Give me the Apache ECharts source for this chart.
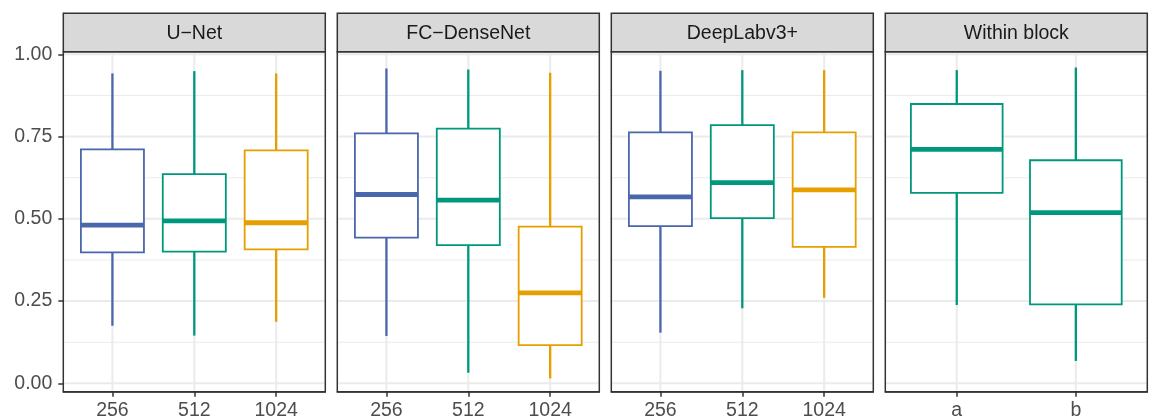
<!DOCTYPE html>
<html>
<head>
<meta charset="utf-8">
<script src="https://cdn.jsdelivr.net/npm/echarts@6/dist/echarts.min.js"></script>
<style>html,body{margin:0;padding:0;background:#fff}#chart{width:1152px;height:420px}</style>
</head>
<body>
<div id="chart"></div>
<script>
// ---- data: [lower whisker, Q1, median, Q3, upper whisker] ----
const panelNames = ['U\u2212Net', 'FC\u2212DenseNet', 'DeepLabv3+', 'Within block'];
const sizeCats = ['256', '512', '1024'];
const blockCats = ['a', 'b'];
const unetStats = [
  [0.175, 0.398, 0.481, 0.711, 0.942],
  [0.145, 0.400, 0.494, 0.636, 0.949],
  [0.187, 0.407, 0.488, 0.708, 0.942]
];
const denseStats = [
  [0.144, 0.443, 0.574, 0.760, 0.957],
  [0.032, 0.420, 0.557, 0.774, 0.954],
  [0.015, 0.116, 0.275, 0.476, 0.944]
];
const deeplabStats = [
  [0.154, 0.478, 0.567, 0.763, 0.950],
  [0.228, 0.502, 0.610, 0.785, 0.952],
  [0.260, 0.415, 0.588, 0.763, 0.952]
];
const blockStats = [
  [0.238, 0.579, 0.711, 0.849, 0.952],
  [0.068, 0.240, 0.519, 0.678, 0.960]
];
const yMajor = [0, 0.25, 0.5, 0.75, 1.0];
const yMinor = [0.125, 0.375, 0.625, 0.875];

// ---- styles / layout ----
const BLUE = '#4A66AC', TEAL = '#00987C', ORANGE = '#E69F00';
const panels = [
  { cats: sizeCats, stats: unetStats, colors: [BLUE, TEAL, ORANGE] },
  { cats: sizeCats, stats: denseStats, colors: [BLUE, TEAL, ORANGE] },
  { cats: sizeCats, stats: deeplabStats, colors: [BLUE, TEAL, ORANGE] },
  { cats: blockCats, stats: blockStats, colors: [TEAL, TEAL] }
];
const YMIN = -0.0255, YMAX = 1.008;
const LEFT0 = 63.3, STEP = 274, PW = 262, TOP = 51.7, PH = 340, STRIP_TOP = 13.3;
const BOXW = 0.77;
const FONT = 'Liberation Sans, Arial, sans-serif';
const FS = 19.5;

const chart = echarts.init(document.getElementById('chart'), null, { renderer: 'canvas' });

const grids = [], xAxes = [], yAxes = [], series = [], graphics = [];

function boxRender(colors) {
  return function (params, api) {
    const x = api.value(0);
    const lo = api.coord([x, api.value(1)]);
    const q1 = api.coord([x, api.value(2)]);
    const md = api.coord([x, api.value(3)]);
    const q3 = api.coord([x, api.value(4)]);
    const hi = api.coord([x, api.value(5)]);
    const hw = api.size([BOXW, 0])[0] / 2;
    const c = colors[params.dataIndex];
    return {
      type: 'group',
      children: [
        { type: 'line', shape: { x1: lo[0], y1: lo[1], x2: q1[0], y2: q1[1] }, style: { stroke: c, lineWidth: 2.3 } },
        { type: 'line', shape: { x1: q3[0], y1: q3[1], x2: hi[0], y2: hi[1] }, style: { stroke: c, lineWidth: 2.3 } },
        { type: 'rect', shape: { x: q1[0] - hw, y: q3[1], width: 2 * hw, height: q1[1] - q3[1] }, style: { fill: '#fff', stroke: c, lineWidth: 1.8 } },
        { type: 'line', shape: { x1: md[0] - hw, y1: md[1], x2: md[0] + hw, y2: md[1] }, style: { stroke: c, lineWidth: 4.8 } }
      ]
    };
  };
}

function gridLineRender(params, api) {
  const cs = params.coordSys;
  const kind = api.value(0), v = api.value(1);
  if (kind < 2) {
    const y = api.coord([1, v])[1];
    return { type: 'line', shape: { x1: cs.x + 1, y1: y, x2: cs.x + cs.width - 1, y2: y },
      style: { stroke: '#EBEBEB', lineWidth: kind === 0 ? 2 : 1.1 } };
  }
  const x = api.coord([v, 0.5])[0];
  return { type: 'line', shape: { x1: x, y1: cs.y + 1, x2: x, y2: cs.y + cs.height - 1 },
    style: { stroke: '#EBEBEB', lineWidth: 2 } };
}

panels.forEach((p, i) => {
  const left = LEFT0 + i * STEP;
  const n = p.cats.length;
  const positions = p.cats.map((c, k) => k + 1);
  grids.push({ left: left, top: TOP, width: PW, height: PH, show: true, backgroundColor: '#fff', borderWidth: 0,
    containLabel: false, outerBoundsMode: 'none' });
  xAxes.push({
    type: 'value', gridIndex: i, min: 0.4, max: n + 0.6,
    splitLine: { show: false },
    axisLine: { show: true, onZero: false, lineStyle: { color: '#333333', width: 1.5 } },
    axisTick: { show: true, length: 5, customValues: positions, lineStyle: { color: '#333333', width: 1.5 } },
    axisLabel: { show: true, customValues: positions, margin: 9, color: '#4D4D4D', fontSize: FS, fontFamily: FONT,
      formatter: (v) => p.cats[Math.round(v) - 1] }
  });
  yAxes.push({
    type: 'value', gridIndex: i, min: YMIN, max: YMAX,
    splitLine: { show: false },
    axisLine: { show: false },
    axisTick: { show: i === 0, length: 5, customValues: yMajor, lineStyle: { color: '#333333', width: 1.5 } },
    axisLabel: { show: i === 0, customValues: yMajor, margin: 11, color: '#4D4D4D', fontSize: FS, fontFamily: FONT,
      formatter: (v) => v.toFixed(2) }
  });
  const gl = [].concat(
    yMajor.map(v => [0, v]),
    yMinor.map(v => [1, v]),
    positions.map(v => [2, v])
  );
  series.push({
    type: 'custom', xAxisIndex: i, yAxisIndex: i, z: 1, silent: true,
    renderItem: gridLineRender, data: gl, encode: { x: 0, y: 1 }
  });
  series.push({
    type: 'custom', xAxisIndex: i, yAxisIndex: i, z: 2, silent: true,
    renderItem: boxRender(p.colors),
    data: p.stats.map((s, k) => [positions[k]].concat(s)),
    encode: { x: 0, y: [1, 2, 3, 4, 5] }
  });
  // strip
  graphics.push({
    type: 'rect', z: 100,
    shape: { x: left, y: STRIP_TOP, width: PW, height: TOP - STRIP_TOP },
    style: { fill: '#D9D9D9', stroke: '#333333', lineWidth: 1.5 }
  });
  graphics.push({
    type: 'text', z: 101, x: left + PW / 2, y: (STRIP_TOP + TOP) / 2 + 1,
    style: { text: panelNames[i], fill: '#1A1A1A', font: FS + 'px ' + FONT, align: 'center', verticalAlign: 'middle' }
  });
  // panel border
  graphics.push({
    type: 'rect', z: 100,
    shape: { x: left, y: TOP, width: PW, height: PH },
    style: { fill: 'none', stroke: '#333333', lineWidth: 1.5 }
  });
});

chart.setOption({
  animation: false,
  backgroundColor: '#fff',
  grid: grids,
  xAxis: xAxes,
  yAxis: yAxes,
  series: series,
  graphic: graphics
});
</script>
</body>
</html>
